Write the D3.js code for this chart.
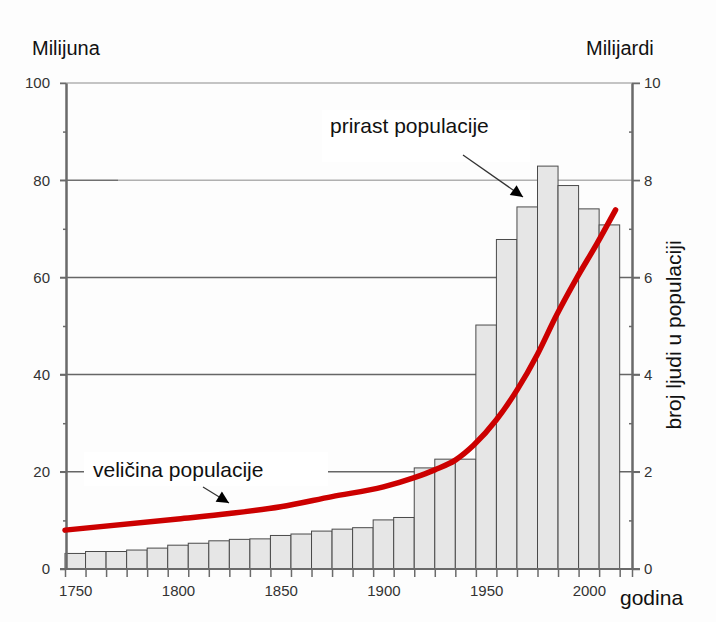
<!DOCTYPE html>
<html><head><meta charset="utf-8">
<script src="https://cdn.jsdelivr.net/npm/d3@7"></script>
<style>
html,body{margin:0;padding:0;background:#fdfdfd;}
svg{display:block;font-family:"Liberation Sans",Arial,sans-serif;}
</style></head>
<body>
<svg id="chart" width="716" height="622"></svg>
<script>
// ---- data ----
const barYears = [1750,1760,1770,1780,1790,1800,1810,1820,1830,1840,1850,1860,1870,1880,1890,1900,1910,1920,1930,1940,1950,1960,1970,1980,1990,2000,2010];
const growthMillions = [3.2,3.6,3.6,3.9,4.3,4.9,5.3,5.8,6.1,6.2,6.9,7.2,7.8,8.2,8.5,10.1,10.6,20.8,22.6,22.6,50.2,67.8,74.5,82.9,78.9,74.1,70.8];
const popYears = [1745,1800,1825,1850,1875,1900,1915,1925,1935,1944,1955,1965,1975,1984,1994,2004,2013];
const popBillions = [0.80,1.03,1.14,1.28,1.49,1.69,1.88,2.04,2.24,2.55,3.07,3.68,4.42,5.20,5.98,6.70,7.39];
const leftTicks = [0,20,40,60,80,100];
const leftMinor = [10,30,50,70,90];
const rightTicks = [0,2,4,6,8,10];
const rightMinor = [1,3,5,7,9];
const xLabels = [1750,1800,1850,1900,1950,2000];

const svg = d3.select("#chart");
const x = d3.scaleLinear().domain([1745,2021]).range([65,632]);
const yL = d3.scaleLinear().domain([0,100]).range([569,83]);
const yR = d3.scaleLinear().domain([0,10]).range([569,83]);
const half = 5;

// gridlines
const g = svg.append("g");
leftTicks.filter(d=>d>0).forEach(d=>{
  const y = yL(d);
  if (d===100) {
    g.append("line").attr("x1",60).attr("x2",640).attr("y1",y).attr("y2",y).attr("stroke","#b0b0b0").attr("stroke-width",1.5);
  } else if (d===80) {
    g.append("line").attr("x1",118).attr("x2",640).attr("y1",y).attr("y2",y).attr("stroke","#b0b0b0").attr("stroke-width",1.5);
    g.append("line").attr("x1",60).attr("x2",118).attr("y1",y).attr("y2",y).attr("stroke","#707070").attr("stroke-width",1.5);
  } else {
    g.append("line").attr("x1",60).attr("x2",640).attr("y1",y).attr("y2",y).attr("stroke","#666").attr("stroke-width",1.5);
  }
});

// label background boxes
svg.append("rect").attr("x",84).attr("y",452).attr("width",244).attr("height",34).attr("fill","#ffffff");
svg.append("rect").attr("x",322).attr("y",110).attr("width",208).attr("height",52).attr("fill","#ffffff");

// bars
svg.append("g").selectAll("rect").data(barYears).join("rect")
  .attr("x",d=>x(d-half))
  .attr("width",d=>x(d+half)-x(d-half))
  .attr("y",(d,i)=>yL(growthMillions[i]))
  .attr("height",(d,i)=>yL(0)-yL(growthMillions[i]))
  .attr("fill","#e6e6e6").attr("stroke","#4a4a4a").attr("stroke-width",1);

// axes
const axisStyle = sel=>{
  sel.selectAll("path").attr("stroke","#6a6a6a").attr("stroke-width",2);
  sel.selectAll("line").attr("stroke","#6a6a6a").attr("stroke-width",1.5);
  sel.selectAll("text").attr("fill","#333").style("font-size","15px").style("font-family","'Liberation Sans',Arial,sans-serif");
};
svg.append("g").attr("transform","translate(66,0)")
  .call(d3.axisLeft(yL).tickValues(leftMinor).tickSize(3).tickSizeOuter(0).tickFormat(""))
  .call(axisStyle);
svg.append("g").attr("transform","translate(66,0)")
  .call(d3.axisLeft(yL).tickValues(leftTicks).tickSize(6).tickSizeOuter(0).tickPadding(10))
  .call(axisStyle);
svg.append("g").attr("transform","translate(632,0)")
  .call(d3.axisLeft(yR).tickValues(rightMinor).tickSize(3).tickSizeOuter(0).tickFormat(""))
  .call(axisStyle);
svg.append("g").attr("transform","translate(632,0)")
  .call(d3.axisRight(yR).tickValues(rightTicks).tickSize(8).tickSizeOuter(0).tickPadding(4))
  .call(axisStyle);

const edges = barYears.map(d=>d-half).concat([barYears[barYears.length-1]+half, 2021]);
const xa = svg.append("g").attr("transform","translate(0,569)")
  .call(d3.axisBottom(x).tickValues(edges).tickSize(8).tickSizeOuter(0).tickFormat(""))
  .call(axisStyle);
xa.select("path").attr("d","M60,0H640");
svg.append("g").attr("transform","translate(0,569)")
  .call(d3.axisBottom(x).tickValues(xLabels).tickSize(0).tickPadding(16).tickFormat(d3.format("d")))
  .call(axisStyle)
  .call(s=>s.select("path").remove());

// population line
const line = d3.line().x(d=>x(d[0])).y(d=>yR(d[1])).curve(d3.curveMonotoneX);
svg.append("path").datum(popYears.map((d,i)=>[d,popBillions[i]]))
  .attr("d",line).attr("fill","none").attr("stroke","#cc0000").attr("stroke-width",5.5)
  .attr("stroke-linecap","round");

// arrows
const defs = svg.append("defs");
defs.append("marker").attr("id","ah").attr("viewBox","0 0 10 10").attr("refX",10).attr("refY",5)
  .attr("markerWidth",14).attr("markerHeight",12).attr("markerUnits","userSpaceOnUse").attr("orient","auto")
  .append("path").attr("d","M0,0L10,5L0,10Z").attr("fill","#000");
svg.append("line").attr("x1",463).attr("y1",155).attr("x2",523).attr("y2",197)
  .attr("stroke","#333").attr("stroke-width",1.3).attr("marker-end","url(#ah)");
svg.append("line").attr("x1",203).attr("y1",487).attr("x2",229).attr("y2",503)
  .attr("stroke","#333").attr("stroke-width",1.3).attr("marker-end","url(#ah)");

// texts
const txt = (s,xx,yy,size,anchor)=>svg.append("text").attr("x",xx).attr("y",yy)
  .attr("text-anchor",anchor||"start").style("font-size",size+"px").attr("fill","#111").text(s);
txt("Milijuna",32,55,20);
txt("Milijardi",586,55,20);
txt("prirast populacije",330,133,21);
txt("veličina populacije",93,477,21);
txt("godina",620,605,21);
svg.append("text").attr("transform","translate(681,335) rotate(-90)").attr("text-anchor","middle")
  .style("font-size","21px").attr("fill","#111").text("broj ljudi u populaciji");
</script>
</body></html>
